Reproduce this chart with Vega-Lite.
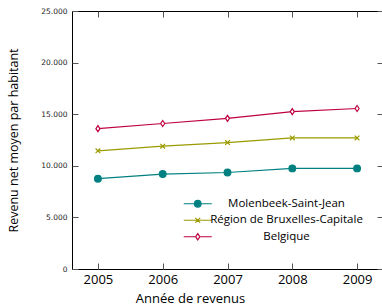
{
  "$schema": "https://vega.github.io/schema/vega-lite/v6.json",
  "width": 311,
  "height": 258,
  "autosize": "none",
  "padding": {"left": 72, "top": 11, "right": 0, "bottom": 39},
  "config": {
    "view": {"stroke": "black", "strokeWidth": 1},
    "axis": {"grid": false, "domain": false, "tickColor": "#555", "tickWidth": 1}
  },
  "data": {
    "values": [
      {"year": 2005, "series": "Molenbeek-Saint-Jean", "value": 8750},
      {"year": 2006, "series": "Molenbeek-Saint-Jean", "value": 9200},
      {"year": 2007, "series": "Molenbeek-Saint-Jean", "value": 9350},
      {"year": 2008, "series": "Molenbeek-Saint-Jean", "value": 9750},
      {"year": 2009, "series": "Molenbeek-Saint-Jean", "value": 9750},
      {"year": 2005, "series": "Région de Bruxelles-Capitale", "value": 11450},
      {"year": 2006, "series": "Région de Bruxelles-Capitale", "value": 11900},
      {"year": 2007, "series": "Région de Bruxelles-Capitale", "value": 12250},
      {"year": 2008, "series": "Région de Bruxelles-Capitale", "value": 12700},
      {"year": 2009, "series": "Région de Bruxelles-Capitale", "value": 12700},
      {"year": 2005, "series": "Belgique", "value": 13600},
      {"year": 2006, "series": "Belgique", "value": 14100},
      {"year": 2007, "series": "Belgique", "value": 14600},
      {"year": 2008, "series": "Belgique", "value": 15250},
      {"year": 2009, "series": "Belgique", "value": 15550}
    ]
  },
  "layer": [
    {
      "mark": {"type": "line", "strokeWidth": 1.2},
      "encoding": {
        "x": {
          "field": "year", "type": "quantitative",
          "scale": {"domain": [2004.6, 2009.4], "nice": false, "zero": false},
          "axis": {
            "orient": "bottom", "values": [2005, 2006, 2007, 2008, 2009], "format": "d",
            "tickSize": -6, "labelFont": "Open Sans", "labelFontSize": 13, "labelColor": "black",
            "labelPadding": 10, "title": "Année de revenus", "titleFont": "Open Sans",
            "titleFontSize": 13, "titleFontWeight": "normal", "titleColor": "black",
            "titleX": 118, "titleY": 33, "titleBaseline": "alphabetic", "titleAlign": "center"
          }
        },
        "y": {
          "field": "value", "type": "quantitative",
          "scale": {"domain": [0, 25000], "nice": false},
          "axis": {
            "orient": "left", "values": [0, 5000, 10000, 15000, 20000, 25000],
            "labelExpr": "replace(format(datum.value, ','), ',', '.')",
            "tickSize": -6, "labelFont": "DejaVu Sans", "labelFontSize": 7.5, "labelColor": "#222",
            "labelPadding": 11, "title": "Revenu net moyen par habitant", "titleFont": "Open Sans",
            "titleFontSize": 12.5, "titleFontWeight": "normal", "titleColor": "black", "titlePadding": 20
          }
        },
        "stroke": {
          "field": "series", "type": "nominal",
          "scale": {
            "domain": ["Molenbeek-Saint-Jean", "Région de Bruxelles-Capitale", "Belgique"],
            "range": ["#008080", "#9a9a00", "#bf0040"]
          },
          "legend": {
            "orient": "none", "legendX": 120, "legendY": 187, "title": null,
            "padding": 0, "symbolSize": 49, "symbolStrokeWidth": 1.2,
            "labelFont": "Open Sans", "labelFontSize": 11.5, "labelColor": "black",
            "labelAlign": "center", "labelOffset": 83, "rowPadding": 3.5, "labelLimit": 300,
            "encode": {
              "symbols": {
                "update": {
                  "shape": {"signal": "datum.value === 'Molenbeek-Saint-Jean' ? 'M-4,0L-0.95,0M0.95,0L4,0M-0.95,0A0.95,0.95,0,1,0,0.95,0A0.95,0.95,0,1,0,-0.95,0Z' : datum.value === 'Belgique' ? 'M-4,0L-0.6,0M0.6,0L4,0M0,-0.9L0.6,0L0,0.9L-0.6,0Z' : 'M-4,0L4,0M-0.7,-0.7L0.7,0.7M-0.7,0.7L0.7,-0.7'"},
                  "fill": {"signal": "datum.value === 'Molenbeek-Saint-Jean' ? '#008080' : 'white'"},
                  "strokeWidth": {"value": 1.2}
                }
              }
            }
          }
        }
      }
    },
    {
      "transform": [{"filter": "datum.series === 'Molenbeek-Saint-Jean'"}],
      "mark": {"type": "point", "shape": "circle", "filled": true, "fill": "#008080", "strokeWidth": 1.2, "opacity": 1, "size": 45},
      "encoding": {
        "x": {
          "field": "year", "type": "quantitative",
          "axis": {"orient": "top", "values": [2005, 2006, 2007, 2008, 2009], "labels": false, "tickSize": -6, "title": null}
        },
        "y": {
          "field": "value", "type": "quantitative",
          "axis": {"orient": "right", "values": [0, 5000, 10000, 15000, 20000, 25000], "labels": false, "tickSize": -6, "title": null}
        },
        "stroke": {"field": "series", "type": "nominal", "legend": null}
      }
    },
    {
      "transform": [{"filter": "datum.series === 'Région de Bruxelles-Capitale'"}],
      "mark": {"type": "point", "shape": "M-0.7,-0.7L0.7,0.7M-0.7,0.7L0.7,-0.7", "filled": false, "strokeWidth": 1.2, "opacity": 1, "size": 45},
      "encoding": {
        "x": {"field": "year", "type": "quantitative", "axis": null},
        "y": {"field": "value", "type": "quantitative", "axis": null},
        "stroke": {"field": "series", "type": "nominal", "legend": null}
      }
    },
    {
      "transform": [{"filter": "datum.series === 'Belgique'"}],
      "mark": {"type": "point", "shape": "M0,-0.9L0.6,0L0,0.9L-0.6,0Z", "filled": false, "fill": "white", "strokeWidth": 1.2, "opacity": 1, "size": 45},
      "encoding": {
        "x": {"field": "year", "type": "quantitative", "axis": null},
        "y": {"field": "value", "type": "quantitative", "axis": null},
        "stroke": {"field": "series", "type": "nominal", "legend": null}
      }
    }
  ],
  "resolve": {"axis": {"x": "independent", "y": "independent"}}
}
